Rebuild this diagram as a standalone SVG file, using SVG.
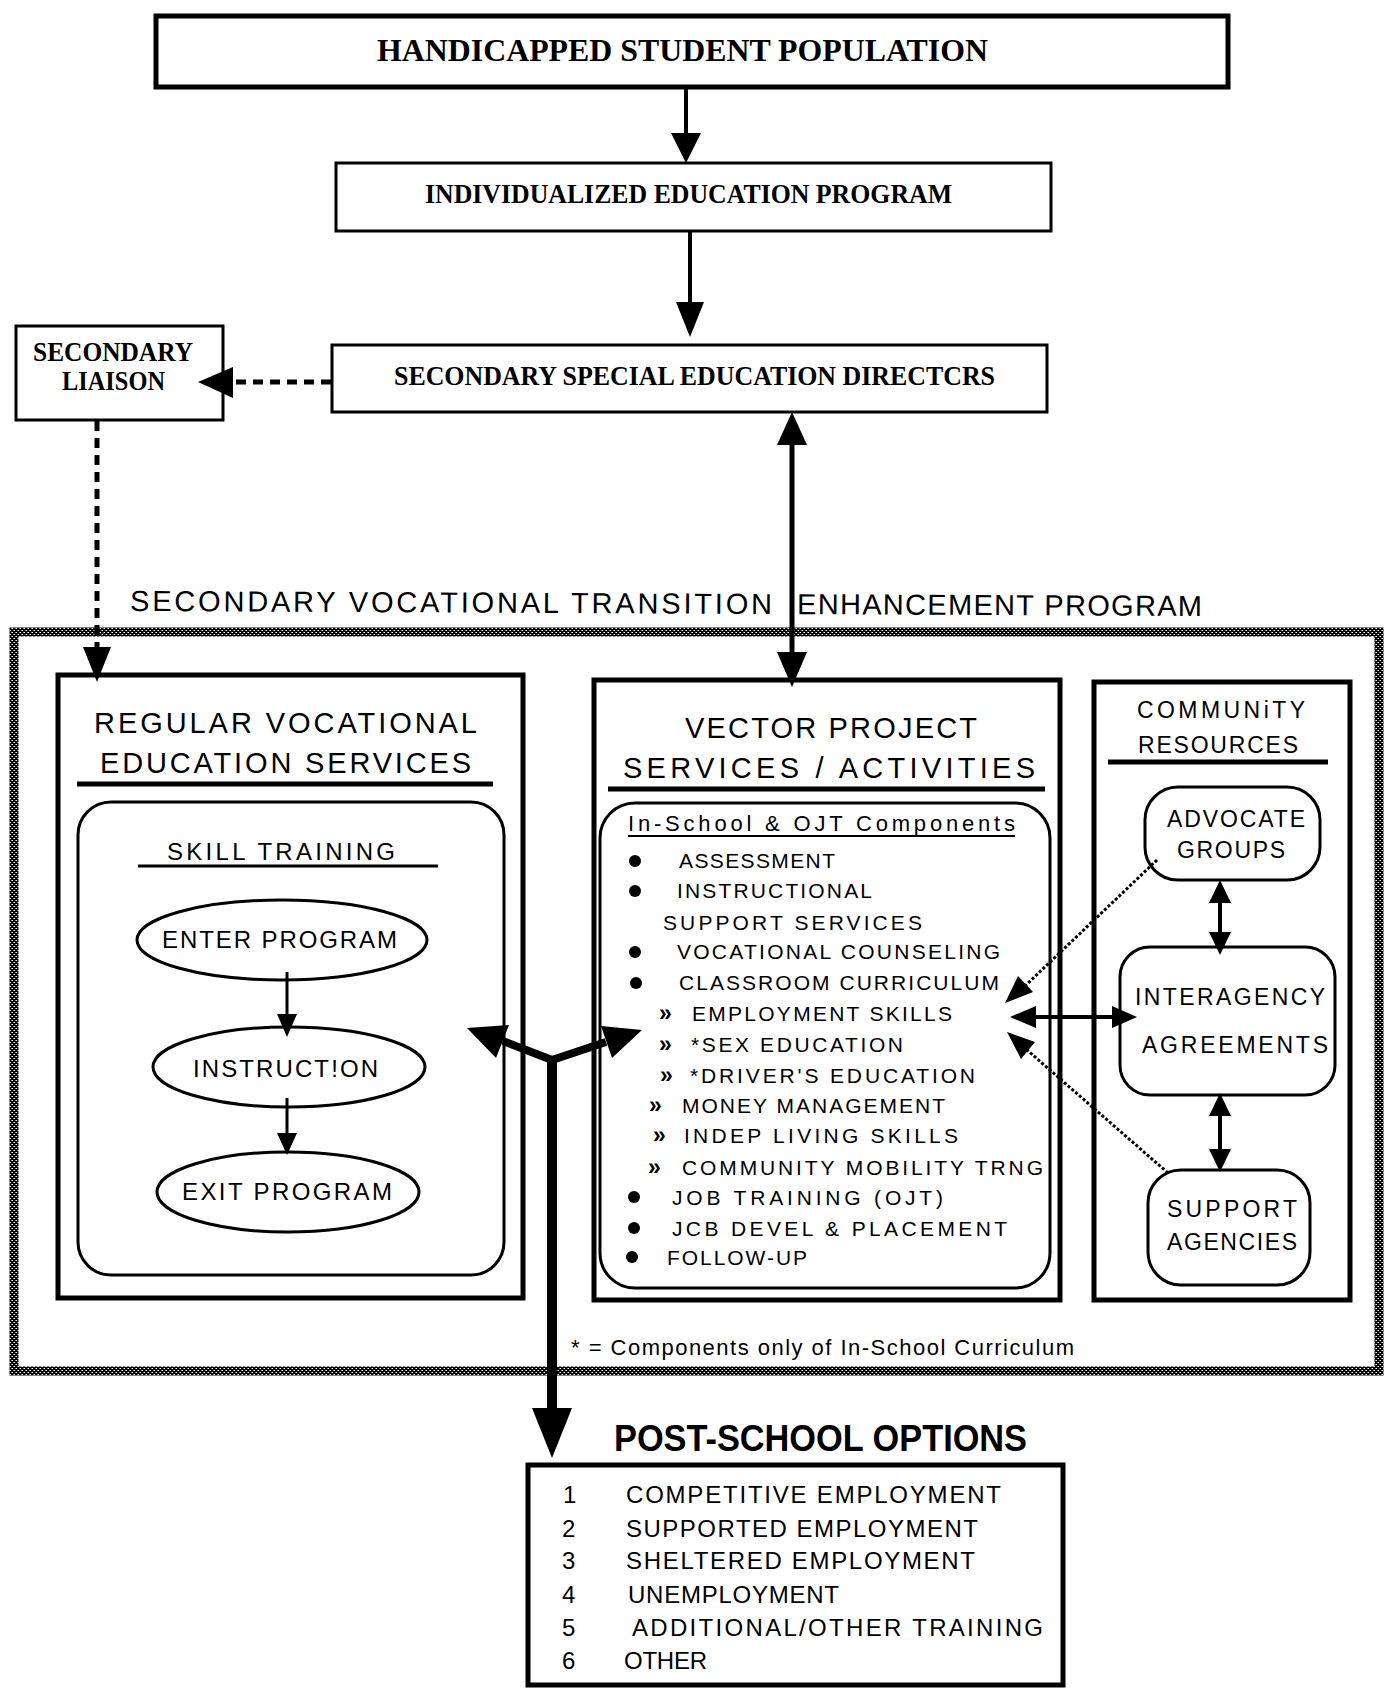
<svg xmlns="http://www.w3.org/2000/svg" width="1384" height="1688" viewBox="0 0 1384 1688">
<defs>
<pattern id="hatch" width="4" height="4" patternUnits="userSpaceOnUse">
<rect width="4" height="4" fill="#000"/>
<rect x="0" y="0" width="1" height="1" fill="#fff"/>
<rect x="2" y="2" width="1" height="1" fill="#fff"/>
<rect x="3" y="0" width="1" height="1" fill="#888"/>
<rect x="1" y="2" width="1" height="1" fill="#888"/>
</pattern>
<style>
.box{fill:#fff;stroke:#000;stroke-width:5}
.box3{fill:#fff;stroke:#000;stroke-width:3}
.ln{stroke:#000;fill:none}
.ah{fill:#000;stroke:none}
.dash{stroke:#000;fill:none;stroke-width:5;stroke-dasharray:10 7}
.dot{stroke:#000;fill:none;stroke-width:3;stroke-dasharray:3 2}
.sb{font-family:"Liberation Serif","Times New Roman",serif;font-weight:bold;fill:#000}
.s{font-family:"Liberation Sans",Arial,sans-serif;fill:#000}
.t29{font-size:29px}
.t24{font-size:24px}
.t23{font-size:23px}
.t22{font-size:22px}
.t21{font-size:21px}
.chev{font-family:"Liberation Sans",Arial,sans-serif;font-weight:bold;font-size:23px;fill:#000}
</style>
</defs>
<rect width="1384" height="1688" fill="#fff"/>

<g id="program-frame">
<rect x="14" y="632" width="1365" height="739" fill="none" stroke="url(#hatch)" stroke-width="9"/>
<g transform="rotate(0.27 130 611)">
<text class="s t29" x="130" y="611" textLength="642" lengthAdjust="spacing">SECONDARY VOCATIONAL TRANSITION</text>
<text class="s t29" x="797" y="611" textLength="405" lengthAdjust="spacing">ENHANCEMENT PROGRAM</text>
</g>
</g>

<g id="handicapped-student-population">
<rect class="box" x="156" y="16" width="1072" height="71"/>
<text class="sb" font-size="31" x="377" y="61" textLength="611" lengthAdjust="spacingAndGlyphs">HANDICAPPED STUDENT POPULATION</text>
</g>

<g id="iep">
<rect class="box3" x="336" y="163" width="715" height="68"/>
<text class="sb" font-size="27" x="425" y="203" textLength="527" lengthAdjust="spacingAndGlyphs">INDIVIDUALIZED EDUCATION PROGRAM</text>
</g>

<g id="special-ed-directors">
<rect class="box3" x="332" y="345" width="715" height="67"/>
<text class="sb" font-size="28" x="394" y="385" textLength="601" lengthAdjust="spacingAndGlyphs">SECONDARY SPECIAL EDUCATION DIRECTCRS</text>
</g>

<g id="secondary-liaison">
<rect class="box3" x="16" y="326" width="207" height="94"/>
<text class="sb" font-size="27" x="33" y="361" textLength="160" lengthAdjust="spacingAndGlyphs">SECONDARY</text>
<text class="sb" font-size="27" x="62" y="390" textLength="103" lengthAdjust="spacingAndGlyphs">LIAISON</text>
</g>

<g id="regular-vocational">
<rect class="box" x="58" y="675" width="465" height="623"/>
<text class="s t29" x="94" y="733" textLength="383" lengthAdjust="spacing">REGULAR VOCATIONAL</text>
<text class="s t29" x="100" y="773" textLength="371" lengthAdjust="spacing">EDUCATION SERVICES</text>
<line class="ln" x1="77" y1="784" x2="493" y2="784" stroke-width="5"/>
<rect class="box3" x="78" y="802" width="426" height="473" rx="33"/>
<text class="s t24" x="167" y="860" textLength="228" lengthAdjust="spacing">SKILL TRAINING</text>
<line class="ln" x1="138" y1="866" x2="438" y2="866" stroke-width="3"/>
</g>

<g id="enter-program">
<ellipse class="box3" cx="282" cy="940" rx="145" ry="40"/>
<text class="s t24" x="162" y="948" textLength="235" lengthAdjust="spacing">ENTER PROGRAM</text>
</g>
<g id="instruction">
<ellipse class="box3" cx="289" cy="1067" rx="136" ry="40"/>
<text class="s t24" x="193" y="1077" textLength="185" lengthAdjust="spacing">INSTRUCT!ON</text>
</g>
<g id="exit-program">
<ellipse class="box3" cx="288" cy="1192" rx="131" ry="40"/>
<text class="s t24" x="182" y="1200" textLength="210" lengthAdjust="spacing">EXIT PROGRAM</text>
</g>

<g id="vector-project">
<rect class="box" x="594" y="680" width="466" height="620"/>
<text class="s t29" x="685" y="738" textLength="292" lengthAdjust="spacing">VECTOR PROJECT</text>
<text class="s t29" x="623" y="778" textLength="412" lengthAdjust="spacing">SERVICES / ACTIVITIES</text>
<line class="ln" x1="608" y1="789" x2="1045" y2="789" stroke-width="5"/>
<rect class="box3" x="600" y="803" width="450" height="485" rx="35"/>
<text class="s t22" x="628" y="831" textLength="387" lengthAdjust="spacing">In-School &amp; OJT Components</text>
<line class="ln" x1="628" y1="836" x2="1015" y2="836" stroke-width="2"/>
<circle class="ah" cx="635" cy="861" r="6"/>
<text class="s t21" x="679" y="868" textLength="156" lengthAdjust="spacing">ASSESSMENT</text>
<circle class="ah" cx="635" cy="891" r="6"/>
<text class="s t21" x="677" y="898" textLength="195" lengthAdjust="spacing">INSTRUCTIONAL</text>
<text class="s t21" x="663" y="930" textLength="259" lengthAdjust="spacing">SUPPORT SERVICES</text>
<circle class="ah" cx="635" cy="952" r="6"/>
<text class="s t21" x="677" y="959" textLength="323" lengthAdjust="spacing">VOCATIONAL COUNSELING</text>
<circle class="ah" cx="636" cy="983" r="6"/>
<text class="s t21" x="679" y="990" textLength="320" lengthAdjust="spacing">CLASSROOM CURRICULUM</text>
<text class="chev" x="659" y="1021">»</text>
<text class="s t21" x="692" y="1021" textLength="260" lengthAdjust="spacing">EMPLOYMENT SKILLS</text>
<text class="chev" x="659" y="1052">»</text>
<text class="s t21" x="691" y="1052" textLength="212" lengthAdjust="spacing">*SEX EDUCATION</text>
<text class="chev" x="660" y="1083">»</text>
<text class="s t21" x="690" y="1083" textLength="285" lengthAdjust="spacing">*DRIVER'S EDUCATION</text>
<text class="chev" x="649" y="1113">»</text>
<text class="s t21" x="682" y="1113" textLength="263" lengthAdjust="spacing">MONEY MANAGEMENT</text>
<text class="chev" x="653" y="1143">»</text>
<text class="s t21" x="684" y="1143" textLength="274" lengthAdjust="spacing">INDEP LIVING SKILLS</text>
<text class="chev" x="648" y="1175">»</text>
<text class="s t21" x="682" y="1175" textLength="361" lengthAdjust="spacing">COMMUNITY MOBILITY TRNG</text>
<circle class="ah" cx="634" cy="1197" r="6"/>
<text class="s t21" x="672" y="1205" textLength="271" lengthAdjust="spacing">JOB TRAINING (OJT)</text>
<circle class="ah" cx="634" cy="1228" r="6"/>
<text class="s t21" x="672" y="1236" textLength="335" lengthAdjust="spacing">JCB DEVEL &amp; PLACEMENT</text>
<circle class="ah" cx="632" cy="1257" r="6"/>
<text class="s t21" x="667" y="1265" textLength="140" lengthAdjust="spacing">FOLLOW-UP</text>
</g>

<g id="community-resources">
<rect class="box" x="1094" y="682" width="256" height="618"/>
<text class="s t23" x="1137" y="718" textLength="168" lengthAdjust="spacing">COMMUNiTY</text>
<text class="s t23" x="1138" y="753" textLength="160" lengthAdjust="spacing">RESOURCES</text>
<line class="ln" x1="1108" y1="762" x2="1328" y2="762" stroke-width="5"/>
</g>
<g id="advocate-groups">
<rect class="box3" x="1145" y="787" width="175" height="93" rx="33"/>
<text class="s t23" x="1167" y="827" textLength="138" lengthAdjust="spacing">ADVOCATE</text>
<text class="s t23" x="1177" y="858" textLength="108" lengthAdjust="spacing">GROUPS</text>
</g>
<g id="interagency-agreements">
<rect class="box3" x="1120" y="947" width="215" height="148" rx="30"/>
<text class="s t23" x="1135" y="1005" textLength="190" lengthAdjust="spacing">INTERAGENCY</text>
<text class="s t23" x="1142" y="1053" textLength="186" lengthAdjust="spacing">AGREEMENTS</text>
</g>
<g id="support-agencies">
<rect class="box3" x="1148" y="1170" width="162" height="115" rx="33"/>
<text class="s t23" x="1167" y="1217" textLength="130" lengthAdjust="spacing">SUPPORT</text>
<text class="s t23" x="1167" y="1250" textLength="130" lengthAdjust="spacing">AGENCIES</text>
</g>

<g id="footnote">
<text class="s t22" x="571" y="1355" textLength="503" lengthAdjust="spacing">* = Components only of In-School Curriculum</text>
</g>

<g id="post-school-options">
<text font-family="'Liberation Sans',Arial,sans-serif" font-weight="bold" font-size="36" x="614" y="1451" textLength="413" lengthAdjust="spacingAndGlyphs">POST-SCHOOL OPTIONS</text>
<rect class="box" x="528" y="1465" width="535" height="220"/>
<text class="s t24" x="563" y="1503">1</text>
<text class="s t24" x="626" y="1503" textLength="375" lengthAdjust="spacing">COMPETITIVE EMPLOYMENT</text>
<text class="s t24" x="562" y="1537">2</text>
<text class="s t24" x="626" y="1537" textLength="352" lengthAdjust="spacing">SUPPORTED EMPLOYMENT</text>
<text class="s t24" x="562" y="1569">3</text>
<text class="s t24" x="626" y="1569" textLength="349" lengthAdjust="spacing">SHELTERED EMPLOYMENT</text>
<text class="s t24" x="562" y="1603">4</text>
<text class="s t24" x="628" y="1603" textLength="211" lengthAdjust="spacing">UNEMPLOYMENT</text>
<text class="s t24" x="562" y="1636">5</text>
<text class="s t24" x="632" y="1636" textLength="411" lengthAdjust="spacing">ADDITIONAL/OTHER TRAINING</text>
<text class="s t24" x="562" y="1669">6</text>
<text class="s t24" x="624" y="1669" textLength="83" lengthAdjust="spacing">OTHER</text>
</g>

<g id="connectors">
<line class="ln" x1="686" y1="88" x2="686" y2="136" stroke-width="4"/>
<polygon class="ah" points="686,163 671,133 701,133"/>
<line class="ln" x1="690" y1="232" x2="690" y2="305" stroke-width="4"/>
<polygon class="ah" points="690,337 676,302 704,302"/>
<line class="ln" x1="792" y1="440" x2="792" y2="656" stroke-width="5"/>
<polygon class="ah" points="792,412 777,445 807,445"/>
<polygon class="ah" points="792,687 777,652 807,652"/>
<line class="dash" x1="331" y1="382" x2="234" y2="382"/>
<polygon class="ah" points="198,382 233,367 233,398"/>
<line class="dash" x1="97" y1="421" x2="97" y2="648"/>
<polygon class="ah" points="97,682 83,647 111,647"/>
<line class="ln" x1="287" y1="972" x2="287" y2="1016" stroke-width="3"/>
<polygon class="ah" points="287,1037 277,1014 297,1014"/>
<line class="ln" x1="287" y1="1098" x2="287" y2="1136" stroke-width="3"/>
<polygon class="ah" points="287,1155 277,1133 297,1133"/>
<polyline class="ln" points="503,1041 552,1060 606,1042" stroke-width="8" stroke-linejoin="miter"/>
<line class="ln" x1="552" y1="1058" x2="552" y2="1412" stroke-width="10"/>
<polygon class="ah" points="467,1028 509,1025 496,1058"/>
<polygon class="ah" points="642,1030 601,1026 612,1058"/>
<polygon class="ah" points="552,1458 532,1408 572,1408"/>
<line class="ln" x1="1030" y1="1017" x2="1116" y2="1017" stroke-width="4"/>
<polygon class="ah" points="1010,1017 1036,1006 1036,1028"/>
<polygon class="ah" points="1137,1017 1112,1006 1112,1028"/>
<line class="ln" x1="1220" y1="900" x2="1220" y2="935" stroke-width="4"/>
<polygon class="ah" points="1220,880 1209,903 1231,903"/>
<polygon class="ah" points="1220,955 1209,932 1231,932"/>
<line class="ln" x1="1220" y1="1113" x2="1220" y2="1152" stroke-width="4"/>
<polygon class="ah" points="1220,1093 1209,1116 1231,1116"/>
<polygon class="ah" points="1220,1172 1209,1149 1231,1149"/>
<line class="dot" x1="1157" y1="860" x2="1026" y2="985"/>
<polygon class="ah" points="1005,1003 1033,992 1018,976"/>
<line class="dot" x1="1168" y1="1173" x2="1027" y2="1050"/>
<polygon class="ah" points="1007,1032 1035,1042 1021,1059"/>
</g>
</svg>
